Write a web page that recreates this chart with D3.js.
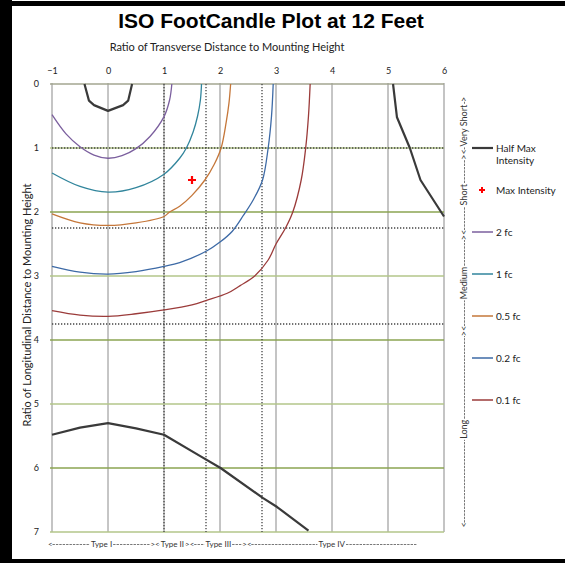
<!DOCTYPE html>
<html>
<head>
<meta charset="utf-8">
<script src="https://cdn.jsdelivr.net/npm/d3@7"></script>
<style>
body { margin: 0; background: #fff; }
svg { display: block; font-family: Lato, "Open Sans", sans-serif; }
</style>
</head>
<body>
<div id="chart"></div>
<script>
// axis ticks
var xTicks = [-1, 0, 1, 2, 3, 4, 5, 6];
var yTicks = [0, 1, 2, 3, 4, 5, 6, 7];

// dotted boundary lines (lateral types / longitudinal classes)
var typeBounds = [1, 1.75, 2.75];
var distBounds = [1, 2.25, 3.75];

// half max intensity trace, three pieces [x, y]
var halfMaxTop = [[-0.42,0],[-0.34,0.26],[-0.25,0.33],[0,0.42],[0.27,0.33],[0.36,0.26],[0.43,0]];
var halfMaxRight = [[5.09,0],[5.16,0.52],[5.39,1.0],[5.58,1.5],[6.0,2.07]];
var halfMaxBottom = [[-1,5.48],[-0.5,5.37],[0,5.30],[0.5,5.38],[1.0,5.48],[1.64,5.81],[2.01,6.0],[2.77,6.47],[3.02,6.61],[3.58,6.98]];

// max intensity point
var maxPoint = [[1.5, 1.5]];

// iso footcandle contours [x, y]
var fc2 = [[-1,0.48],[-0.75,0.78],[-0.5,0.98],[-0.25,1.11],[0,1.16],[0.25,1.12],[0.5,1.01],[0.75,0.82],[1.0,0.51],[1.1,0.25],[1.14,0]];
var fc1 = [[-1,1.39],[-0.5,1.60],[0,1.69],[0.5,1.62],[1.0,1.41],[1.28,1.16],[1.4,1.0],[1.52,0.75],[1.6,0.5],[1.65,0.25],[1.67,0]];
var fc05 = [[-1,2.03],[-0.5,2.17],[0,2.21],[0.5,2.17],[1.0,2.07],[1.1,2.0],[1.28,1.91],[1.5,1.74],[1.73,1.5],[1.9,1.25],[2.02,1.0],[2.11,0.6],[2.16,0.3],[2.19,0]];
var fc02 = [[-1,2.85],[-0.5,2.94],[0,2.97],[0.5,2.93],[1.0,2.85],[1.28,2.79],[1.76,2.61],[2.0,2.47],[2.22,2.3],[2.42,2.05],[2.6,1.8],[2.76,1.5],[2.86,1.0],[2.92,0.5],[2.95,0]];
var fc01 = [[-1,3.54],[-0.5,3.61],[0,3.63],[0.5,3.59],[1.0,3.53],[1.5,3.45],[1.76,3.38],[2.13,3.27],[2.36,3.15],[2.62,3.0],[2.86,2.75],[3.0,2.5],[3.17,2.25],[3.30,2.0],[3.45,1.5],[3.53,1.0],[3.58,0.5],[3.61,0]];

var contourNames = ["2 fc", "1 fc", "0.5 fc", "0.2 fc", "0.1 fc"];
var contourColors = ["#7b5f9e", "#31859c", "#c5773a", "#3d6aa6", "#9b3b3a"];

// zone labels
var typeZones = [
  {label: "Type I", from: -1.07, to: 0.84, end: true},
  {label: "Type II", from: 0.84, to: 1.46, end: true},
  {label: "Type III", from: 1.46, to: 2.48, end: true},
  {label: "Type IV", from: 2.48, to: 5.51, end: false}
];
var distZones = [
  {label: "Long", from: 6.93, to: 3.86, end: true},
  {label: "Medium", from: 3.86, to: 2.36, end: true},
  {label: "Short", from: 2.36, to: 1.1, end: true},
  {label: "Very Short", from: 1.1, to: 0.2, end: true}
];

var W = 565, H = 563;
var margin = {top: 84, left: 52},
    width = 392,
    height = 448;

var svg = d3.select("#chart").append("svg")
  .attr("width", W)
  .attr("height", H);

svg.append("rect").attr("width", W).attr("height", H).attr("fill", "#fff");
// black frame pieces
svg.append("rect").attr("x", 0).attr("y", 0).attr("width", 12).attr("height", H).attr("fill", "#000");
svg.append("rect").attr("x", 0).attr("y", 1).attr("width", W).attr("height", 5).attr("fill", "#000");
svg.append("rect").attr("x", 0).attr("y", 559).attr("width", W).attr("height", 4).attr("fill", "#000");

svg.append("text")
  .attr("x", 271).attr("y", 28)
  .attr("text-anchor", "middle")
  .style("font-family", "'Liberation Sans', Arial, sans-serif")
  .style("font-weight", "bold")
  .style("font-size", "21px")
  .text("ISO FootCandle Plot at 12 Feet");

svg.append("text")
  .attr("x", 227).attr("y", 51)
  .attr("text-anchor", "middle")
  .style("font-size", "11px")
  .attr("fill", "#222")
  .text("Ratio of Transverse Distance to Mounting Height");

svg.append("text")
  .attr("transform", "translate(31,305) rotate(-90)")
  .attr("text-anchor", "middle")
  .style("font-size", "11px")
  .attr("fill", "#222")
  .text("Ratio of Longitudinal Distance to Mounting Height");

var g = svg.append("g")
  .attr("transform", "translate(" + margin.left + "," + margin.top + ")");

var x = d3.scaleLinear().domain([-1, 6]).range([0, width]);
var y = d3.scaleLinear().domain([0, 7]).range([0, height]);

// grid
g.selectAll(".vgrid").data(xTicks).enter().append("line")
  .attr("x1", function(d) { return x(d); })
  .attr("x2", function(d) { return x(d); })
  .attr("y1", -1).attr("y2", height)
  .attr("stroke", function(d) { return (d === 0 || d === 4) ? "#8c8c8c" : "#b0b0b0"; })
  .attr("stroke-width", function(d) { return (d === 0 || d === 4) ? 1 : 1.5; });

g.selectAll(".hgrid").data(yTicks).enter().append("line")
  .attr("x1", -2).attr("x2", width)
  .attr("y1", function(d) { return y(d); })
  .attr("y2", function(d) { return y(d); })
  .attr("stroke", function(d) { return d === 0 ? "#a3a690" : (d % 2 ? "#b3c68a" : "#8ba552"); })
  .attr("stroke-width", 1.5);

// dotted boundaries
g.selectAll(".vdot").data(typeBounds).enter().append("line")
  .attr("x1", function(d) { return x(d); })
  .attr("x2", function(d) { return x(d); })
  .attr("y1", 0).attr("y2", height)
  .attr("stroke", "#444").attr("stroke-width", 1.3)
  .attr("stroke-dasharray", "1.3,1.7");

g.selectAll(".hdot").data(distBounds).enter().append("line")
  .attr("x1", 0).attr("x2", width)
  .attr("y1", function(d) { return y(d); })
  .attr("y2", function(d) { return y(d); })
  .attr("stroke", "#444").attr("stroke-width", 1.3)
  .attr("stroke-dasharray", "1.3,1.7");

// axes
var xAxis = g.append("g").attr("transform", "translate(0,-7)")
  .call(d3.axisTop(x).tickValues(xTicks).tickSize(0).tickFormat(d3.format("d")));
var yAxis = g.append("g").attr("transform", "translate(-10,0)")
  .call(d3.axisLeft(y).tickValues(yTicks).tickSize(0).tickFormat(d3.format("d")));
[xAxis, yAxis].forEach(function(a) {
  a.select(".domain").remove();
  a.selectAll("text").style("font-size", "9px").style("font-family", "Lato, sans-serif").attr("fill", "#222");
});

// contours
var smooth = d3.line()
  .x(function(d) { return x(d[0]); })
  .y(function(d) { return y(d[1]); })
  .curve(d3.curveCatmullRom.alpha(0.5));
var straight = d3.line()
  .x(function(d) { return x(d[0]); })
  .y(function(d) { return y(d[1]); });

var contours = [fc2, fc1, fc05, fc02, fc01];
g.selectAll(".contour").data(contours).enter().append("path")
  .attr("d", smooth)
  .attr("fill", "none")
  .attr("stroke", function(d, i) { return contourColors[i]; })
  .attr("stroke-width", 1.3);

g.selectAll(".halfmax").data([halfMaxTop, halfMaxRight, halfMaxBottom]).enter().append("path")
  .attr("d", straight)
  .attr("fill", "none")
  .attr("stroke", "#3a3a3a")
  .attr("stroke-width", 2.2)
  .attr("stroke-linejoin", "round");

var plus = "M-4,0H4M0,-4V4";
g.selectAll(".maxpt").data(maxPoint).enter().append("path")
  .attr("transform", function(d) { return "translate(" + x(d[0]) + "," + y(d[1]) + ")"; })
  .attr("d", plus)
  .attr("stroke", "#ff0000")
  .attr("stroke-width", 2.2);

// zone labels made of dashes
function zoneText(grp, zones, pos, fs) {
  zones.forEach(function(z) {
    var a = Math.min(pos(z.from), pos(z.to)), b = Math.max(pos(z.from), pos(z.to));
    var mid = (a + b) / 2;
    var t = grp.append("text").attr("x", mid).attr("dy", "0.35em")
      .attr("text-anchor", "middle").style("font-size", fs + "px").attr("fill", "#333").text(z.label);
    var w = t.node().getComputedTextLength();
    grp.append("text").attr("x", a).attr("dy", "0.35em").style("font-size", fs + "px").attr("fill", "#333").text("<");
    var lw = fs * 0.55;
    var right = b;
    if (z.end) {
      grp.append("text").attr("x", b).attr("dy", "0.35em").attr("text-anchor", "end")
        .style("font-size", fs + "px").attr("fill", "#333").text(">");
      right = b - lw;
    }
    [[a + lw, mid - w / 2 - 1], [mid + w / 2 + 1, right]].forEach(function(s) {
      if (s[1] > s[0]) {
        grp.append("line").attr("x1", s[0]).attr("x2", s[1]).attr("y1", 0.5).attr("y2", 0.5)
          .attr("stroke", "#555").attr("stroke-width", 0.8).attr("stroke-dasharray", "2.4,1");
      }
    });
  });
}

var bottomG = g.append("g").attr("transform", "translate(0," + (height + 12) + ")");
zoneText(bottomG, typeZones, x, 8);

var rightG = svg.append("g").attr("transform", "translate(464," + margin.top + ") rotate(-90)");
zoneText(rightG, distZones, function(v) { return -y(v); }, 9);

// legend
var legend = svg.append("g").attr("transform", "translate(472,148)");
var legItems = [{name: ["Half Max", "Intensity"], color: "#3a3a3a", w: 2.2}, {name: ["Max Intensity"], marker: true}]
  .concat(contourNames.map(function(n, i) { return {name: [n], color: contourColors[i], w: 1.5}; }));
var li = legend.selectAll(".li").data(legItems).enter().append("g")
  .attr("transform", function(d, i) { return "translate(0," + (i * 42) + ")"; });
li.each(function(d) {
  var s = d3.select(this);
  if (d.marker) {
    s.append("path").attr("transform", "translate(10,0)").attr("d", "M-3,0H3M0,-3V3")
      .attr("stroke", "#ff0000").attr("stroke-width", 2);
  } else {
    s.append("line").attr("x1", 0).attr("x2", 21).attr("stroke", d.color).attr("stroke-width", d.w);
  }
  s.append("text").attr("x", 24).attr("dy", "0.35em").style("font-size", "10px").attr("fill", "#222")
    .selectAll("tspan").data(d.name).enter().append("tspan")
    .attr("x", 24).attr("dy", function(t, i) { return i ? "1.25em" : null; })
    .text(function(t) { return t; });
});
</script>
</body>
</html>
